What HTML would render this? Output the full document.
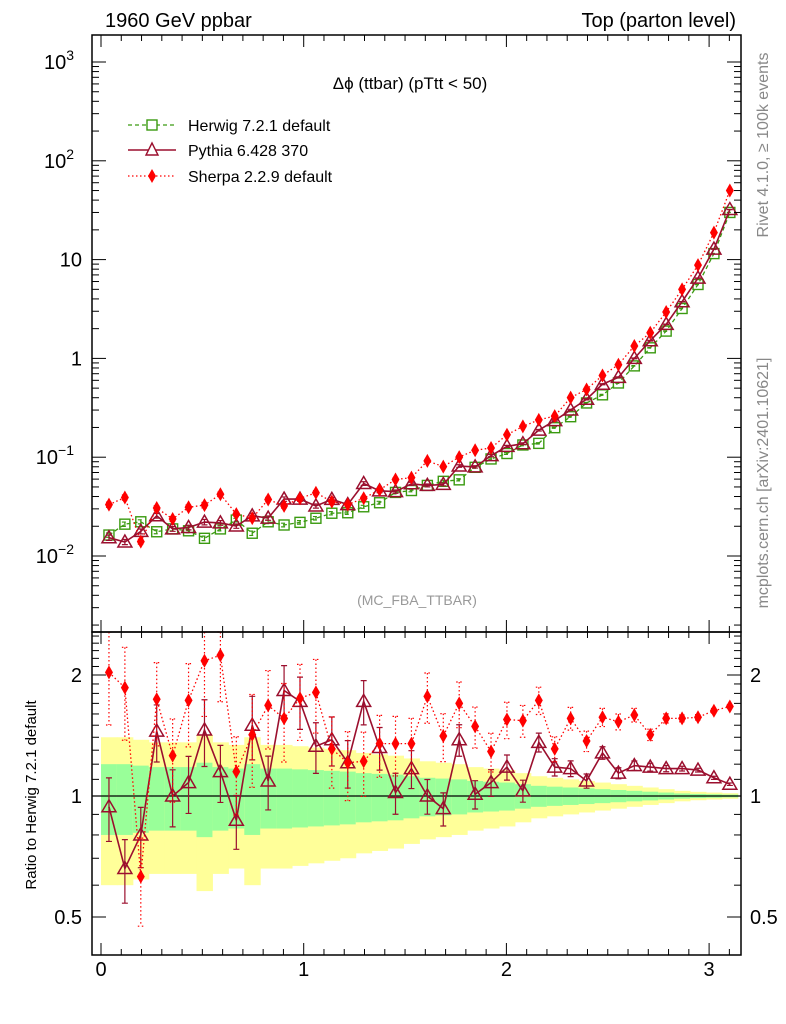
<!DOCTYPE html>
<html><head><meta charset="utf-8"><style>
html,body{margin:0;padding:0;background:#fff}
svg{display:block;font-family:"Liberation Sans",sans-serif}
</style></head><body>
<svg id="c" width="786" height="1024" viewBox="0 0 786 1024">
<g id="bands"></g>
<g id="marks"></g>
<g id="axes"></g>
<text x="105" y="27" font-size="20">1960 GeV ppbar</text>
<text x="736" y="27" font-size="20" text-anchor="end">Top (parton level)</text>
<text x="410" y="89" font-size="17" text-anchor="middle">Δϕ (ttbar) (pTtt &lt; 50)</text>
<text x="417" y="605" font-size="14" fill="#999" text-anchor="middle">(MC_FBA_TTBAR)</text>
<text transform="translate(768,145) rotate(-90)" font-size="16" fill="#888" text-anchor="middle">Rivet 4.1.0, ≥ 100k events</text>
<text transform="translate(768,483) rotate(-90)" font-size="16" fill="#888" text-anchor="middle">mcplots.cern.ch [arXiv:2401.10621]</text>
<text transform="translate(36,795) rotate(-90)" font-size="15" text-anchor="middle">Ratio to Herwig 7.2.1 default</text>
<g>
<g><line x1="128" y1="125" x2="176" y2="125" stroke="#3a9a10" stroke-width="1.3" stroke-dasharray="4,3"/><rect x="147" y="120" width="10" height="10" fill="#fff" stroke="#3a9a10" stroke-width="1.4"/><text x="188" y="131" font-size="16">Herwig 7.2.1 default</text></g>
<g><line x1="128" y1="150" x2="176" y2="150" stroke="#9b0f2e" stroke-width="1.5"/><path d="M152,143 L158,155 L146,155 Z" fill="#fff" stroke="#9b0f2e" stroke-width="1.4"/><text x="188" y="156" font-size="16">Pythia 6.428 370</text></g>
<g><line x1="128" y1="176" x2="176" y2="176" stroke="#f00" stroke-width="1.3" stroke-dasharray="1.5,2.5"/><path d="M152,169 L156,176 L152,183 L148,176 Z" fill="#f00"/><text x="188" y="182" font-size="16">Sherpa 2.2.9 default</text></g>
</g>
</svg>
<script>
const herwig=[.0163,.021,.0222,.0176,.0188,.018,.0151,.0188,.0231,.017,.0222,.0206,.0219,.0241,.0271,.0274,.0315,.0346,.044,.046,.0518,.057,.059,.079,.096,.109,.133,.138,.199,.257,.354,.428,.564,.84,1.28,1.89,3.2,5.6,11.5,30];
const pythiaRatio=[.94,.66,.8,1.45,1.0,1.08,1.46,1.15,.87,1.5,1.09,1.83,1.72,1.33,1.38,1.21,1.72,1.32,1.02,1.17,1.0,.93,1.38,1.01,1.08,1.18,1.03,1.36,1.18,1.17,1.09,1.28,1.14,1.19,1.18,1.17,1.17,1.16,1.11,1.07];
const sherpaRatio=[2.03,1.86,.63,1.74,1.26,1.73,2.17,2.24,1.15,1.42,1.68,1.56,1.75,1.81,1.31,1.21,1.22,1.35,1.35,1.35,1.77,1.41,1.7,1.49,1.29,1.55,1.54,1.73,1.31,1.56,1.37,1.57,1.53,1.59,1.42,1.56,1.56,1.57,1.63,1.67];
const relErr=[.2,.2,.19,.18,.18,.18,.21,.18,.17,.2,.17,.17,.165,.16,.155,.15,.14,.135,.13,.12,.11,.105,.1,.09,.085,.08,.07,.06,.055,.05,.045,.04,.035,.03,.025,.02,.015,.012,.01,.008];
const xTicks=[0,1,2,3];
const mainTicks=[["-2","10"],["-1","10"],["0","1"],["1","10"],["2","10"],["3","10"]];
const ratioTicks=[0.5,1,2];

const NS="http://www.w3.org/2000/svg";
const L=92,R=741,T=35,M=632,B=955;
const bw=Math.PI/40;
const X=v=>101+202.7*v;
const Y=v=>556-98.8*Math.log10(v/0.01);
const YR=v=>796-121*Math.log2(v);
function mk(tag,attrs,parent){const e=document.createElementNS(NS,tag);for(const k in attrs)e.setAttribute(k,attrs[k]);parent.appendChild(e);return e;}
const bands=document.getElementById('bands'),marks=document.getElementById('marks'),axes=document.getElementById('axes');
const clipR=v=>Math.max(M,Math.min(B,v));

herwig.forEach((h,i)=>{
  const x0=X(i*bw),x1=X((i+1)*bw),e=relErr[i];
  const y=mk('rect',{x:x0,y:YR(1+2*e),width:x1-x0+0.5,height:YR(1-2*e)-YR(1+2*e),fill:'#ffff99'},bands);
  
  
  const g=mk('rect',{x:x0,y:YR(1+e),width:x1-x0+0.5,height:YR(1-e)-YR(1+e),fill:'#99ff99'},bands);
  
  
});
const one=mk('line',{x1:L,x2:R,y1:YR(1),y2:YR(1),stroke:'#000','stroke-width':1.3},bands);



function series(vals,color,dash,marker,name,isMain,errScale){
  const pts=vals.map((v,i)=>[X((i+0.5)*bw),isMain?Y(v):YR(v)]);
  const pl=mk('polyline',{points:pts.map(p=>p.join(',')).join(' '),fill:'none',stroke:color,'stroke-width':marker==='tri'?1.6:1.3,'stroke-dasharray':dash},marks);
  
  
  vals.forEach((v,i)=>{
    const [x,y]=pts[i];const e=relErr[i]*errScale;
    let y1,y2;
    if(isMain){y1=Y(v*(1+e));y2=Y(Math.max(v*(1-e),1e-4));}else{y1=clipR(YR(v*(1+e)));y2=clipR(YR(Math.max(v*(1-e),0.01)));}
    const eb=mk('path',{d:`M${x},${y1}L${x},${y2}M${x-3},${y1}L${x+3},${y1}M${x-3},${y2}L${x+3},${y2}`,stroke:color,'stroke-width':1.2,'stroke-dasharray':dash,fill:'none'},marks);
    
    
    let m;
    if(marker==='sq')m=mk('rect',{x:x-5,y:y-5,width:10,height:10,fill:'none',stroke:color,'stroke-width':1.4},marks);
    else if(marker==='tri')m=mk('path',{d:`M${x},${y-7}L${x+7},${y+5}L${x-7},${y+5}Z`,fill:'none',stroke:color,'stroke-width':1.5},marks);
    else m=mk('path',{d:`M${x},${y-7}L${x+4},${y}L${x},${y+7}L${x-4},${y}Z`,fill:color},marks);
    
    
  });
}
const pyth=herwig.map((h,i)=>h*pythiaRatio[i]);
const sher=herwig.map((h,i)=>h*sherpaRatio[i]);
series(herwig,'#3a9a10','4,3','sq','herwig',true,0.25);
series(pyth,'#9b0f2e','','tri','pythia',true,0.3);
series(sher,'#f00','1.5,2.5','dia','sherpa',true,0.3);
series(pythiaRatio,'#9b0f2e','','tri','pythia-ratio',false,0.9);
series(sherpaRatio,'#f00','1.5,2.5','dia','sherpa-ratio',false,1.3);

[[T,M,'main-frame'],[M,B,'ratio-frame']].forEach(([a,b,n])=>{
  const r=mk('rect',{x:L,y:a,width:R-L,height:b-a,fill:'none',stroke:'#000','stroke-width':1.5},axes);
  
  
});
for(let k=0;k<=31;k++){
  const v=k/10,x=X(v);if(x>R)break;
  const len=(k%10===0)?12:6;
  [[T,1],[M,-1],[M,1],[B,-1]].forEach(([y0,d])=>{
    mk('line',{x1:x,x2:x,y1:y0,y2:y0+d*len,stroke:'#000','stroke-width':1},axes);
  });
}
xTicks.forEach(v=>{
  const t=mk('text',{x:X(v),y:976,'font-size':20,'text-anchor':'middle'},axes);t.textContent=v;
  
  
});
for(let d=-3;d<=3;d++){
  for(let m=1;m<10;m++){
    const v=m*Math.pow(10,d),y=Y(v);if(y<T||y>M)continue;
    const len=m===1?14:7;
    mk('line',{x1:L,x2:L+len,y1:y,y2:y,stroke:'#000','stroke-width':1},axes);
    mk('line',{x1:R,x2:R-len,y1:y,y2:y,stroke:'#000','stroke-width':1},axes);
  }
}
mainTicks.forEach(([e,b])=>{
  const v=Math.pow(10,+e),y=Y(v);
  const t=mk('text',{x:82,y:y+7,'font-size':20,'text-anchor':'end'},axes);
  
  
  if(e==="0"||e==="1"){t.textContent=b;}
  else{t.textContent=b;const s=mk('tspan',{dy:-9,'font-size':14},t);s.textContent=(e.startsWith('-')?'−'+e.slice(1):e);t.setAttribute('x',74);}
});
for(let k=4;k<=25;k++){
  const v=k/10,y=YR(v);if(y<M||y>B)continue;
  const major=ratioTicks.includes(v);const len=major?14:7;
  mk('line',{x1:L,x2:L+len,y1:y,y2:y,stroke:'#000','stroke-width':1},axes);
  mk('line',{x1:R,x2:R-len,y1:y,y2:y,stroke:'#000','stroke-width':1},axes);
}
ratioTicks.forEach(v=>{
  const y=YR(v);
  const a=mk('text',{x:82,y:y+7,'font-size':20,'text-anchor':'end'},axes);a.textContent=v;
  
  
  const b=mk('text',{x:750,y:y+7,'font-size':20},axes);b.textContent=v;
  
  
});
</script>
</body></html>
